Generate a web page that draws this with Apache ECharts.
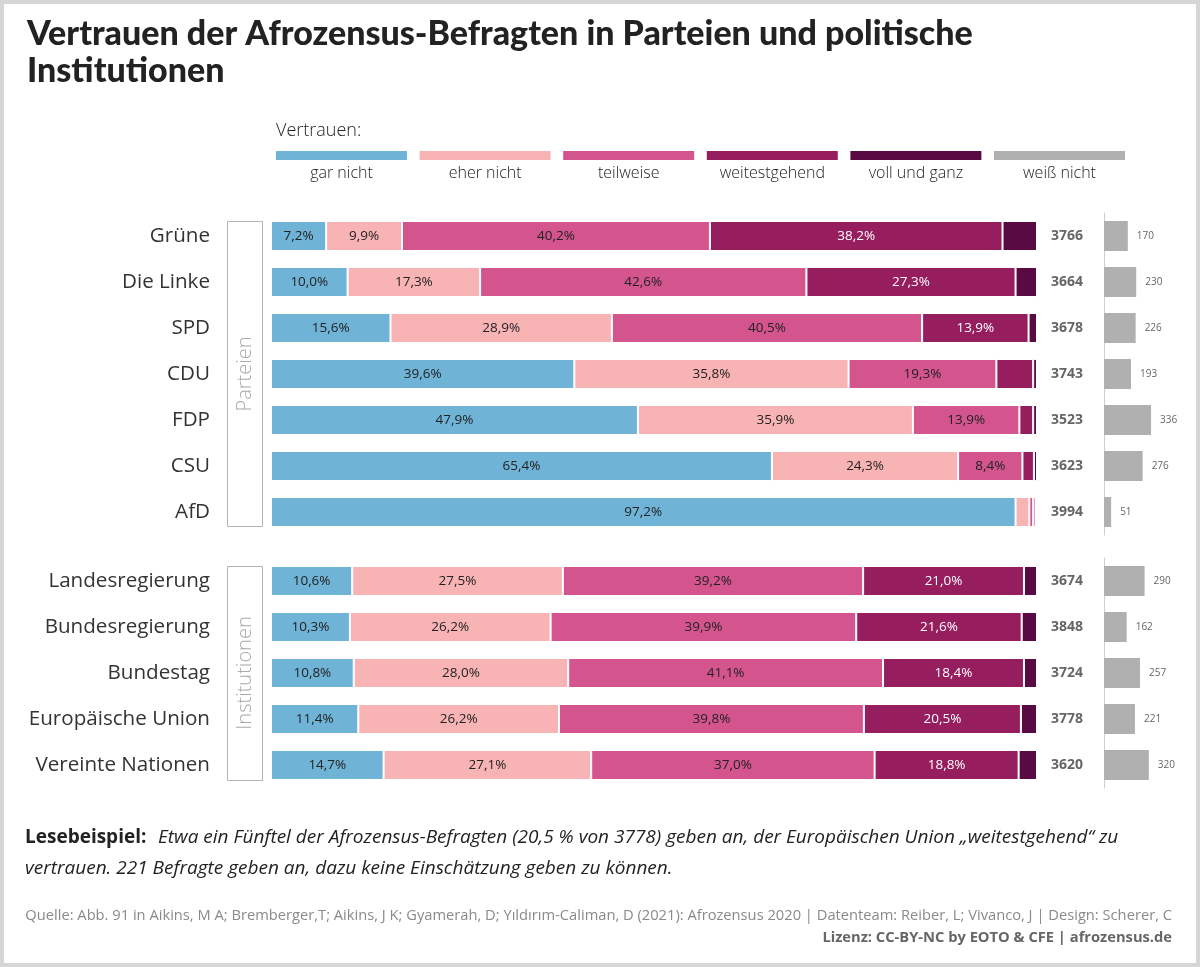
<!DOCTYPE html>
<html>
<head>
<meta charset="utf-8">
<script src="https://cdn.jsdelivr.net/npm/echarts@6/dist/echarts.min.js"></script>
<style>
html,body{margin:0;padding:0;background:#fff;}
#chart{position:absolute;left:0;top:0;width:1200px;height:967px;}
#frame{position:absolute;left:0;top:0;width:1200px;height:967px;box-sizing:border-box;border:4px solid #d6d6d6;pointer-events:none;}
</style>
</head>
<body>
<div id="chart"></div>
<div id="frame"></div>
<script>
// ---- Data ----
const seriesNames = ['gar nicht', 'eher nicht', 'teilweise', 'weitestgehend', 'voll und ganz', 'weiß nicht'];
const seriesColors = ['#6fb3d6', '#f8b3b5', '#d4548e', '#961e5e', '#5a0a42', '#b0b0b0'];

const partyCategories = ['Grüne', 'Die Linke', 'SPD', 'CDU', 'FDP', 'CSU', 'AfD'];
const partyGarNicht = [7.2, 10.0, 15.6, 39.6, 47.9, 65.4, 97.2];
const partyEherNicht = [9.9, 17.3, 28.9, 35.8, 35.9, 24.3, 1.8];
const partyTeilweise = [40.2, 42.6, 40.5, 19.3, 13.9, 8.4, 0.5];
const partyWeitestgehend = [38.2, 27.3, 13.9, 4.8, 1.8, 1.5, 0.3];
const partyVollUndGanz = [4.5, 2.8, 1.1, 0.5, 0.5, 0.4, 0.2];
const partyN = [3766, 3664, 3678, 3743, 3523, 3623, 3994];
const partyWeissNicht = [170, 230, 226, 193, 336, 276, 51];

const instCategories = ['Landesregierung', 'Bundesregierung', 'Bundestag', 'Europäische Union', 'Vereinte Nationen'];
const instGarNicht = [10.6, 10.3, 10.8, 11.4, 14.7];
const instEherNicht = [27.5, 26.2, 28.0, 26.2, 27.1];
const instTeilweise = [39.2, 39.9, 41.1, 39.8, 37.0];
const instWeitestgehend = [21.0, 21.6, 18.4, 20.5, 18.8];
const instVollUndGanz = [1.7, 2.0, 1.7, 2.1, 2.4];
const instN = [3674, 3848, 3724, 3778, 3620];
const instWeissNicht = [290, 162, 257, 221, 320];

// ---- Build ----
const FONT = '"Open Sans", "Noto Sans", sans-serif';
const labelColors = ['#222', '#222', '#222', '#fff', '#fff'];

function stackSeries(groupIdx, arrays) {
  return arrays.map((arr, i) => ({
    type: 'bar',
    name: seriesNames[i],
    stack: 'g' + groupIdx,
    xAxisIndex: groupIdx,
    yAxisIndex: groupIdx,
    data: arr,
    barWidth: 30,
    itemStyle: { color: seriesColors[i], borderColor: '#fff', borderWidth: 1 },
    label: {
      show: true,
      position: 'inside',
      fontFamily: FONT,
      fontSize: 13.5,
      color: labelColors[i],
      formatter: p => p.value >= 7 ? p.value.toFixed(1).replace('.', ',') + '%' : ''
    },
    silent: true
  }));
}

function weissSeries(gridIdx, arr) {
  return {
    type: 'bar',
    name: 'weiß nicht',
    xAxisIndex: gridIdx,
    yAxisIndex: gridIdx,
    data: arr,
    barWidth: 30,
    itemStyle: { color: seriesColors[5] },
    label: {
      show: true, position: 'right', distance: 9,
      fontFamily: FONT, fontSize: 10, color: '#666'
    },
    silent: true
  };
}

const gridTops = [213, 558];
const gridHeights = [partyCategories.length * 46, instCategories.length * 46];

const grids = [
  { left: 271, width: 766, top: gridTops[0], height: gridHeights[0] },
  { left: 271, width: 766, top: gridTops[1], height: gridHeights[1] },
  { left: 1104, width: 70, top: gridTops[0], height: gridHeights[0] },
  { left: 1104, width: 70, top: gridTops[1], height: gridHeights[1] }
];

const xAxes = [0, 1].map(i => ({ type: 'value', gridIndex: i, min: 0, max: 100, show: false }))
  .concat([2, 3].map(i => ({ type: 'value', gridIndex: i, min: 0, max: 500, show: false })));

const catLabel = {
  fontFamily: FONT, fontSize: 20.6, color: '#333', margin: 61
};
const nLabel = { margin: 21, fontFamily: FONT, fontSize: 14, fontWeight: 'bold', color: '#666' };
const yAxes = [
  { type: 'category', gridIndex: 0, data: partyCategories, inverse: true,
    axisLine: { show: false }, axisTick: { show: false }, axisLabel: catLabel },
  { type: 'category', gridIndex: 1, data: instCategories, inverse: true,
    axisLine: { show: false }, axisTick: { show: false }, axisLabel: catLabel },
  { type: 'category', gridIndex: 2, data: partyCategories, inverse: true,
    axisLine: { show: true, lineStyle: { color: '#cfcfcf', width: 1 } }, axisTick: { show: false },
    axisLabel: Object.assign({}, nLabel, { formatter: (v, idx) => String(partyN[idx]) }) },
  { type: 'category', gridIndex: 3, data: instCategories, inverse: true,
    axisLine: { show: true, lineStyle: { color: '#cfcfcf', width: 1 } }, axisTick: { show: false },
    axisLabel: Object.assign({}, nLabel, { formatter: (v, idx) => String(instN[idx]) }) }
];

const series = []
  .concat(stackSeries(0, [partyGarNicht, partyEherNicht, partyTeilweise, partyWeitestgehend, partyVollUndGanz]))
  .concat(stackSeries(1, [instGarNicht, instEherNicht, instTeilweise, instWeitestgehend, instVollUndGanz]))
  .concat([weissSeries(2, partyWeissNicht), weissSeries(3, instWeissNicht)]);

// legend drawn as graphic (labels under swatches)
const legendGraphics = [{
  type: 'text', x: 276, y: 131,
  style: { text: 'Vertrauen:', font: '300 18px ' + FONT, fill: '#222', verticalAlign: 'middle' }
}];
const legendX0 = 276, legendStep = 143.6, legendW = 131;
seriesNames.forEach((n, i) => {
  const x = legendX0 + i * legendStep;
  legendGraphics.push({ type: 'rect', shape: { x: x, y: 151, width: legendW, height: 9 }, style: { fill: seriesColors[i] } });
  legendGraphics.push({ type: 'text', x: x + legendW / 2, y: 173,
    style: { text: n, font: '300 16px ' + FONT, fill: '#222', align: 'center', verticalAlign: 'middle' } });
});

const bracketGraphics = [
  { type: 'rect', shape: { x: 227.5, y: 221.5, width: 35, height: 305 }, style: { fill: 'none', stroke: '#b5b5b5', lineWidth: 1 } },
  { type: 'text', x: 245, y: 374, rotation: Math.PI / 2,
    style: { text: 'Parteien', font: '300 20px ' + FONT, fill: '#aaa', align: 'center', verticalAlign: 'middle' } },
  { type: 'rect', shape: { x: 227.5, y: 566.5, width: 35, height: 214 }, style: { fill: 'none', stroke: '#b5b5b5', lineWidth: 1 } },
  { type: 'text', x: 245, y: 673, rotation: Math.PI / 2,
    style: { text: 'Institutionen', font: '300 20px ' + FONT, fill: '#aaa', align: 'center', verticalAlign: 'middle' } }
];

const footerGraphics = [
  { type: 'text', x: 25, y: 838,
    style: { text: 'Lesebeispiel:', font: 'bold 19px ' + FONT, fill: '#222', verticalAlign: 'middle' } },
  { type: 'text', x: 158, y: 838,
    style: { text: 'Etwa ein Fünftel der Afrozensus-Befragten (20,5 % von 3778) geben an, der Europäischen Union „weitestgehend“ zu', font: 'italic 19px ' + FONT, fill: '#222', verticalAlign: 'middle' } },
  { type: 'text', x: 25, y: 869,
    style: { text: 'vertrauen. 221 Befragte geben an, dazu keine Einschätzung geben zu können.', font: 'italic 19px ' + FONT, fill: '#222', verticalAlign: 'middle' } },
  { type: 'text', x: 1172, y: 916,
    style: { text: 'Quelle: Abb. 91 in Aikins, M A; Bremberger,T; Aikins, J K; Gyamerah, D; Yıldırım-Caliman, D (2021): Afrozensus 2020 | Datenteam: Reiber, L; Vivanco, J | Design: Scherer, C', font: '14.7px ' + FONT, fill: '#8a8a8a', align: 'right', verticalAlign: 'middle' } },
  { type: 'text', x: 1172, y: 938,
    style: { text: 'Lizenz: CC-BY-NC by EOTO & CFE | afrozensus.de', font: 'bold 14.7px ' + FONT, fill: '#666', align: 'right', verticalAlign: 'middle' } }
];

const option = {
  animation: false,
  backgroundColor: '#fff',
  title: {
    text: 'Vertrauen der Afrozensus-Befragten in Parteien und politische\nInstitutionen',
    left: 22, top: 11,
    textStyle: { fontFamily: 'Lato, "DejaVu Sans", sans-serif', fontWeight: 900, fontSize: 34, color: '#222', lineHeight: 37 }
  },
  grid: grids,
  xAxis: xAxes,
  yAxis: yAxes,
  series: series,
  graphic: legendGraphics.concat(bracketGraphics, footerGraphics)
};

const chart = echarts.init(document.getElementById('chart'), null, { renderer: 'canvas' });
chart.setOption(option);
</script>
</body>
</html>
